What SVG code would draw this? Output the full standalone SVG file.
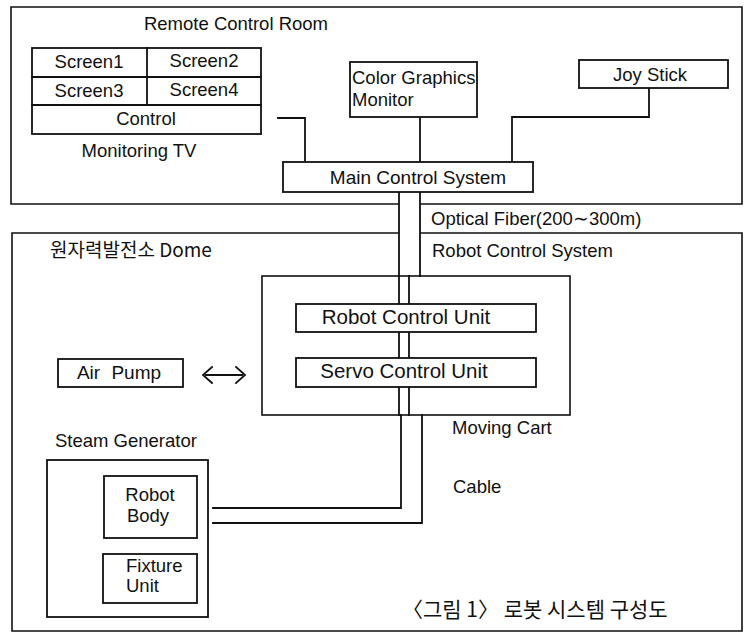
<svg xmlns="http://www.w3.org/2000/svg" width="747" height="633" viewBox="0 0 747 633">
<style>
.ln{fill:none;stroke:#111;stroke-width:1.8;stroke-linecap:square}
.bx{fill:#fff;stroke:#111;stroke-width:1.8}
.fr{fill:none;stroke:#111;stroke-width:1.6}
text{font-family:"Liberation Sans","Noto Sans CJK KR",Arial,sans-serif;font-size:18.5px;fill:#111}
.m{text-anchor:middle}
.kr{font-family:"Noto Sans CJK KR","Liberation Sans",sans-serif}
</style>
<rect width="747" height="633" fill="#fff"/>
<g id="connectors">
<path class="ln" d="M278,118 H305 V162"/>
<path class="ln" d="M420,117 V162"/>
<path class="ln" d="M649,88 V117 H512 V162"/>
<path class="ln" d="M399,192 V276 M420,192 V276"/>
<path class="ln" d="M399,276 V415 M409,276 V415"/>
<path class="ln" d="M401,415 V508 H213"/>
<path class="ln" d="M422,415 V523 H213"/>
<path class="ln" d="M212,367 L203,375 L212,383 M206,375 H242 M236,367 L245,375 L236,383"/>
</g>
<g id="remote-control-room">
<path class="fr" d="M399,204 H11 V7 H742 V204 H420"/>
<text class="m" x="236" y="30">Remote Control Room</text>
</g>
<g id="monitoring-tv">
<rect class="bx" x="32" y="48" width="229" height="86"/>
<path class="ln" d="M32,77 H261 M32,105 H261 M147,48 V105"/>
<text class="m" x="89" y="68">Screen1</text>
<text class="m" x="204" y="67">Screen2</text>
<text class="m" x="89" y="97">Screen3</text>
<text class="m" x="204" y="96">Screen4</text>
<text class="m" x="146" y="125">Control</text>
<text class="m" x="139" y="157">Monitoring TV</text>
</g>
<g id="color-graphics-monitor">
<rect class="bx" x="350" y="62" width="127" height="55"/>
<text x="352" y="84">Color Graphics</text>
<text x="352" y="106">Monitor</text>
</g>
<g id="joy-stick">
<rect class="bx" x="579" y="60" width="149" height="28"/>
<text class="m" x="650" y="81">Joy Stick</text>
</g>
<g id="main-control-system">
<rect class="bx" x="283" y="162" width="250" height="30"/>
<text class="m" x="418" y="184" style="font-size:19px">Main Control System</text>
</g>
<g id="optical-fiber">
<text x="431" y="225">Optical Fiber(200∼300m)</text>
</g>
<g id="dome">
<path class="fr" d="M399,233 H12 V631 H742 V233 H420"/>
<text class="kr" x="50" y="257" style="font-size:19px">원자력발전소 Dome</text>
</g>
<g id="robot-control-system">
<text x="432" y="257">Robot Control System</text>
<rect class="fr" x="262" y="276" width="308" height="139"/>
<text x="452" y="434">Moving Cart</text>
</g>
<g id="robot-control-unit">
<rect class="bx" x="296" y="304" width="240" height="28"/>
<text class="m" x="406" y="324" style="font-size:20.5px">Robot Control Unit</text>
</g>
<g id="servo-control-unit">
<rect class="bx" x="296" y="358" width="240" height="29"/>
<text class="m" x="404" y="378" style="font-size:20.5px">Servo Control Unit</text>
</g>
<g id="air-pump">
<rect class="bx" x="58" y="359" width="125" height="28"/>
<text class="m" x="119" y="379" style="font-size:19px;word-spacing:6px">Air Pump</text>
</g>
<g id="cable">
<text x="453" y="493">Cable</text>
</g>
<g id="steam-generator">
<text x="55" y="447">Steam Generator</text>
<rect class="bx" x="47" y="460" width="161" height="157"/>
</g>
<g id="robot-body">
<rect class="bx" x="104" y="476" width="93" height="62"/>
<text class="m" x="150" y="501">Robot</text>
<text class="m" x="148" y="522">Body</text>
</g>
<g id="fixture-unit">
<rect class="bx" x="103" y="554" width="94" height="49"/>
<text x="126" y="572">Fixture</text>
<text x="126" y="592">Unit</text>
</g>
<g id="caption">
<text class="kr" x="402" y="617" style="font-size:21px">〈그림 1〉 로봇 시스템 구성도</text>
</g>
</svg>
